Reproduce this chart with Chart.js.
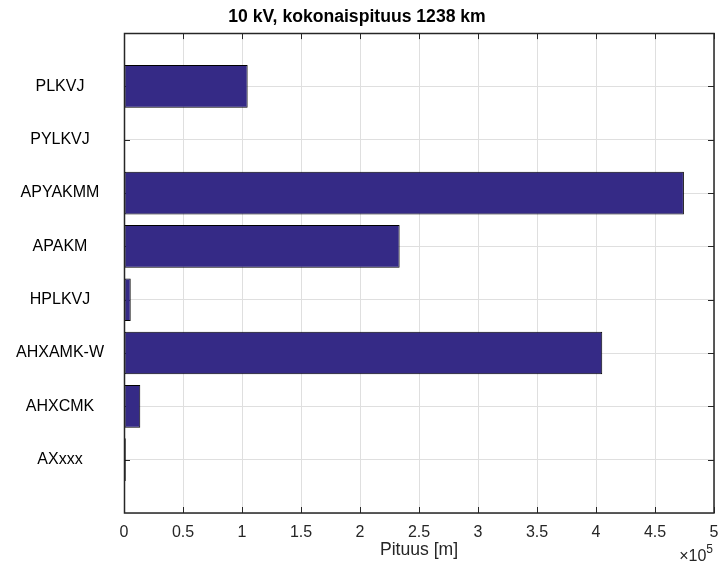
<!DOCTYPE html>
<html>
<head>
<meta charset="utf-8">
<script src="https://cdn.jsdelivr.net/npm/chart.js@4/dist/chart.umd.min.js"></script>
<style>
  html, body { margin: 0; padding: 0; background: #ffffff; }
  #wrap { width: 719px; height: 568px; position: relative; }
</style>
</head>
<body>
<div id="wrap"><canvas id="c" width="719" height="568"></canvas></div>
<script>
// ---- data ----
const titleText = '10 kV, kokonaispituus 1238 km';
const xAxisLabel = 'Pituus [m]';
const categories = ['PLKVJ', 'PYLKVJ', 'APYAKMM', 'APAKM', 'HPLKVJ', 'AHXAMK-W', 'AHXCMK', 'AXxxx'];
const lengths = [104800, 300, 474500, 233600, 5700, 405300, 13800, 1500];
const xTickValues = [0, 50000, 100000, 150000, 200000, 250000, 300000, 350000, 400000, 450000, 500000];
const xExponent = 5;

// padded label list (empty slots at both ends, like MATLAB's axis limits)
const yLabels = [''].concat(categories, ['']);
const yData = [null].concat(lengths, [null]);

const FONT = "'Liberation Sans', Arial, Helvetica, sans-serif";
const AX = '#262626';
const GRID = '#dfdfdf';

const boxPlugin = {
  id: 'matlabBox',
  beforeDatasetsDraw(chart) {
    const { ctx, chartArea: a, scales } = chart;
    ctx.save();
    ctx.strokeStyle = AX;
    ctx.lineWidth = 1;
    const tl = 6;
    ctx.beginPath();
    scales.x.ticks.forEach((t, i) => {
      const px = Math.round(scales.x.getPixelForTick(i)) + 0.5;
      ctx.moveTo(px, a.bottom); ctx.lineTo(px, a.bottom - tl);
      ctx.moveTo(px, a.top); ctx.lineTo(px, a.top + tl);
    });
    scales.y.ticks.forEach((t, i) => {
      if (!yLabels[t.value]) return;
      const py = Math.round(scales.y.getPixelForTick(i)) + 0.5;
      ctx.moveTo(a.left, py); ctx.lineTo(a.left + tl, py);
      ctx.moveTo(a.right, py); ctx.lineTo(a.right - tl, py);
    });
    ctx.stroke();
    ctx.restore();
  },
  afterDatasetsDraw(chart) {
    const { ctx, chartArea: a } = chart;
    ctx.save();
    ctx.strokeStyle = AX;
    ctx.lineWidth = 1.5;
    ctx.strokeRect(Math.round(a.left) + 0.5, Math.round(a.top) + 0.5,
                   Math.round(a.right - a.left) - 0.5, Math.round(a.bottom - a.top) - 0.5);
    // exponent label
    ctx.fillStyle = AX;
    ctx.textBaseline = 'alphabetic';
    ctx.textAlign = 'right';
    ctx.font = '12px ' + FONT;
    const sup = String(xExponent);
    const supW = ctx.measureText(sup).width;
    ctx.fillText(sup, a.right - 1, a.bottom + 40);
    ctx.font = '16px ' + FONT;
    ctx.fillText('\u00d710', a.right - 1 - supW, a.bottom + 48);
    ctx.restore();
  }
};

new Chart(document.getElementById('c'), {
  type: 'bar',
  data: {
    labels: yLabels,
    datasets: [{
      data: yData,
      backgroundColor: '#352a86',
      borderColor: '#000000',
      borderWidth: 1,
      borderSkipped: false,
      barPercentage: 0.8,
      categoryPercentage: 1.0
    }]
  },
  options: {
    indexAxis: 'y',
    responsive: false,
    animation: false,
    devicePixelRatio: 1,
    layout: { padding: { left: 0, right: 5, top: 0, bottom: 0 } },
    plugins: {
      legend: { display: false },
      tooltip: { enabled: false },
      title: {
        display: true,
        text: titleText,
        color: '#000000',
        font: { family: FONT, size: 17.6, weight: 'bold' },
        padding: { top: 7, bottom: 5 }
      }
    },
    scales: {
      x: {
        type: 'linear',
        position: 'bottom',
        min: 0,
        max: 500000,
        afterBuildTicks(scale) { scale.ticks = xTickValues.map(v => ({ value: v })); },
        afterFit(scale) { scale.height = 55; scale.paddingLeft = 0; scale.paddingRight = 0; },
        ticks: {
          color: AX,
          font: { family: FONT, size: 16 },
          padding: 10,
          maxRotation: 0,
          callback: v => String(+(v / Math.pow(10, xExponent)).toFixed(2))
        },
        grid: { color: GRID, lineWidth: 1, drawTicks: false },
        border: { display: false },
        title: {
          display: true,
          text: xAxisLabel,
          color: AX,
          font: { family: FONT, size: 17.6 },
          padding: { top: 2, bottom: 7 }
        }
      },
      y: {
        type: 'category',
        offset: false,
        afterFit(scale) { scale.width = 124; scale.paddingTop = 0; scale.paddingBottom = 0; },
        ticks: {
          color: '#000000',
          font: { family: FONT, size: 16 },
          crossAlign: 'center',
          padding: 20,
          autoSkip: false
        },
        grid: { color: GRID, lineWidth: 1, drawTicks: false, offset: false },
        border: { display: false }
      }
    }
  },
  plugins: [boxPlugin]
});
</script>
</body>
</html>
